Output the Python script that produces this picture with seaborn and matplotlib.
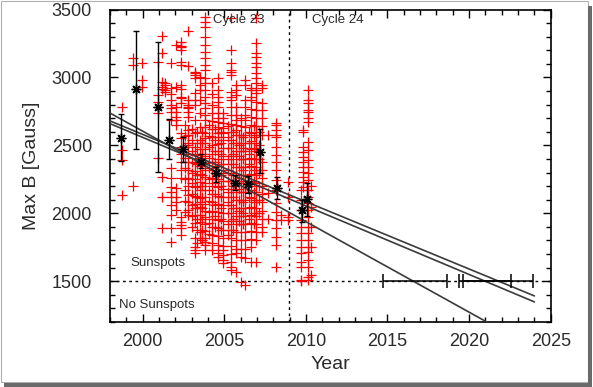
import numpy as np
import pandas as pd
import matplotlib
matplotlib.use("Agg")
import matplotlib.pyplot as plt
from matplotlib.patches import Rectangle
from matplotlib.ticker import MultipleLocator
import seaborn as sns

# ---- data ----
# individual umbral field measurements (red crosses), one list per observing date
col_year = [1998.72, 1999.39, 1999.94, 2000.92, 2001.17, 2001.40, 2001.72, 2002.05, 2002.35,
            2002.60, 2002.80, 2003.00, 2003.20, 2003.35, 2003.50, 2003.65, 2003.85, 2004.05,
            2004.25, 2004.45, 2004.60, 2004.80, 2004.95, 2005.20, 2005.40, 2005.55, 2005.70,
            2005.90, 2006.05, 2006.15, 2006.30, 2006.50, 2006.65, 2006.80, 2006.95, 2007.10,
            2007.30, 2007.65, 2008.20, 2008.50, 2008.90, 2009.70, 2009.85, 2010.13, 2010.30]
col_gauss = [
    [2780, 2466, 2392, 2135],
    [3141, 3092, 2203],
    [3108, 2981, 2927],
    [3116, 2871, 2822, 2785, 2736, 2405],
    [3305, 3182, 2969, 2913, 2932, 2270, 2122, 1890],
    [2944, 2908, 2895, 2957],
    [3104, 2920, 2878, 2834, 2797, 2773, 2748, 2687, 2331, 2258, 2196, 2159, 2122, 2061, 1988, 1890, 1791],
    [3239, 2927, 2785, 2748, 2711, 2687, 2650, 2184, 2122, 2085, 2024],
    [3263, 3231, 3226, 3202, 3116, 3092, 2944, 2913, 2858, 2810, 2846, 2589, 2552, 2490, 2440, 2380,
     2320, 2260, 1975, 1938, 1914, 1840, 1890],
    [2650, 2570, 2490, 2410, 2330, 2250, 2170, 2090, 2010],
    [3344, 3084, 2834, 2785, 2797, 2773, 2748, 2711, 2613, 2576, 2515, 2503, 2440, 2380, 2320, 2260,
     2200, 2135, 2085, 2024, 1988],
    [2620, 2540, 2460, 2380, 2300, 2220, 2140, 2060, 1980, 1900],
    [3042, 3035, 2994, 3018, 2883, 2834, 2797, 2687, 2589, 2490, 2430, 2370, 2310, 2250, 2190, 2130,
     2070, 2039, 1988, 1929, 1816, 1754, 1705, 1730],
    [2600, 2520, 2440, 2360, 2280, 2200, 2120, 2040, 1960, 1880, 1780],
    [3005, 2944, 2908, 2834, 2736, 2637, 2540, 2470, 2410, 2350, 2290, 2230, 2170, 2110, 2085, 2050,
     1990, 1938, 1865, 1816],
    [2600, 2520, 2440, 2360, 2280, 2200, 2120, 2040, 1960, 1880, 1800],
    [3447, 3410, 3373, 3300, 3239, 3189, 3141, 3092, 3055, 2993, 2957, 2908, 2858, 2810, 2773, 2724,
     2687, 2637, 2589, 2552, 2515, 2470, 2420, 2370, 2320, 2270, 2220, 2170, 2120, 2070, 2020, 1970,
     1920, 1870, 1820, 1791, 1767, 1730],
    [2650, 2570, 2490, 2410, 2330, 2250, 2170, 2090, 2010, 1930, 1850],
    [2960, 2880, 2800, 2740, 2680, 2620, 2560, 2500, 2440, 2380, 2320, 2260, 2200, 2140, 2080, 2020,
     1960, 1900, 1840, 1780, 1730],
    [2620, 2540, 2460, 2380, 2300, 2220, 2140, 2060, 1980, 1900],
    [2993, 2908, 2858, 2821, 2785, 2736, 2699, 2674, 2637, 2589, 2564, 2510, 2460, 2400, 2350, 2300,
     2250, 2190, 2130, 2070, 2010, 1950, 1890, 1830, 1770, 1705, 1681],
    [2600, 2520, 2440, 2360, 2280, 2200, 2120, 2040, 1960, 1880],
    [2736, 2699, 2662, 2626, 2589, 2540, 2480, 2420, 2360, 2300, 2240, 2180, 2120, 2060, 2000, 1940,
     1880, 1820, 1760, 1730, 1656, 1632, 1693],
    [2640, 2560, 2480, 2400, 2320, 2240, 2160, 2080, 2000, 1920, 1840],
    [3435, 3202, 3104, 3055, 3018, 3042, 2895, 2858, 2834, 2780, 2720, 2660, 2600, 2540, 2480, 2420,
     2360, 2300, 2240, 2180, 2120, 2060, 2000, 1940, 1880, 1820, 1760, 1700, 1644, 1607, 1583],
    [2600, 2520, 2440, 2360, 2280, 2200, 2120, 2040, 1960, 1880],
    [2944, 2908, 2871, 2785, 2724, 2687, 2650, 2613, 2576, 2520, 2460, 2400, 2340, 2280, 2220, 2160,
     2100, 2040, 1980, 1920, 1860, 1800, 1740, 1705, 1570],
    [2580, 2500, 2420, 2340, 2260, 2180, 2100, 2020, 1940],
    [2700, 2640, 2580, 2520, 2460, 2400, 2340, 2280, 2220, 2160, 2100, 2040, 1980, 1920, 1860, 1800,
     1740, 1681, 1497],
    [2560, 2480, 2400, 2320, 2240, 2160, 2080, 2000, 1920],
    [2981, 2944, 2834, 2785, 2724, 2687, 2637, 2580, 2520, 2460, 2400, 2340, 2280, 2220, 2160, 2100,
     2040, 1980, 1920, 1860, 1800, 1740, 1669, 1472],
    [2600, 2520, 2440, 2360, 2280, 2200, 2120, 2040, 1960],
    [2920, 2908, 2858, 2834, 2770, 2710, 2650, 2590, 2530, 2470, 2410, 2350, 2290, 2230, 2170, 2110,
     2050, 1990, 1930, 1870, 1810, 1750, 1644],
    [2640, 2560, 2480, 2400, 2320, 2240, 2160, 2080, 2000, 1920],
    [3435, 3251, 3178, 3153, 3104, 3079, 3030, 2993, 2957, 2908, 2883, 2820, 2760, 2700, 2640, 2580,
     2520, 2460, 2400, 2340, 2280, 2220, 2160, 2100, 2040, 1980, 1920, 1860, 1800, 1644],
    [2600, 2500, 2400, 2300, 2200, 2100, 2000],
    [2944, 2920, 2810, 2760, 2699, 2640, 2580, 2380, 2320, 2260, 2200, 2140, 2080, 2020, 1960, 1900, 1860],
    [2576, 2150, 1960],
    [2662, 2650, 2613, 2576, 2564, 2490, 2429, 2380, 2319, 2245, 2171, 2073, 2012, 1951, 1890, 1828,
     1767, 1607],
    [1951, 1985],
    [2233, 2122, 1975, 1951],
    [2171, 2098, 2024, 1951, 1901, 1852, 1803, 1754, 1705, 1644, 1607, 1508, 1500],
    [2490, 2453, 2417, 2380, 2343, 2306, 2270, 2233, 2196, 2601, 2613],
    [2908, 2834, 2810, 2760, 2748, 2699, 2674, 2527, 2466, 2392, 2343, 2294, 2245, 2171, 2122, 2073,
     2024, 1975, 1901, 1852, 1803, 1754, 1717, 1656, 1607, 1533, 1508],
    [2200, 2050, 1900, 1750, 1546],
]

# yearly averages (black asterisks) with their error bars
avg_year = [1998.66, 1999.59, 2000.92, 2001.60, 2002.49, 2003.58, 2004.50,
            2005.66, 2006.44, 2007.19, 2008.21, 2009.75, 2010.05]
avg_gauss = [2552, 2913, 2785, 2540, 2473, 2376, 2295, 2226, 2214, 2449, 2189, 2025, 2106]
avg_low = [2387, 2474, 2302, 2398, 2380, 2332, 2233, 2172, 2147, 2295, 2106, 1939, 1980]
avg_high = [2729, 3344, 3259, 2692, 2560, 2437, 2343, 2282, 2277, 2618, 2270, 2098, 2226]

# linear extrapolations to the 1500 G threshold
fit_year = [1998, 2024]
fit_a = [2738, 1006]
fit_b = [2680, 1392]
fit_c = [2660, 1348]

# years where the fits cross 1500 G, with uncertainty ranges
cross_year = [2016.69, 2020.98, 2021.76]
cross_low = [2014.73, 2019.39, 2019.60]
cross_high = [2018.65, 2022.57, 2023.92]

cycle_start = 2008.95
threshold = 1500

df = pd.DataFrame({
    "Year": [y for y, g in zip(col_year, col_gauss) for _ in g],
    "B": [v for g in col_gauss for v in g],
})

sns.set_style("ticks")
plt.rcParams["font.family"] = ["Liberation Sans", "DejaVu Sans"]
txt = "#2a2a2a"

fig = plt.figure(figsize=(5.93, 3.87), dpi=100)
ax = fig.add_axes([110 / 593, 1 - 322 / 387, 440.7 / 593, 312.5 / 387])

sns.scatterplot(data=df, x="Year", y="B", marker="+", color="red", s=62,
                linewidth=0.9, ax=ax, zorder=2, legend=False)

for fy in (fit_a, fit_b, fit_c):
    sns.lineplot(x=fit_year, y=fy, color="#3a3a3a", lw=1.2, ax=ax, zorder=3)

yerr = [np.array(avg_gauss) - np.array(avg_low), np.array(avg_high) - np.array(avg_gauss)]
ax.errorbar(avg_year, avg_gauss, yerr=yerr, fmt="none", ecolor="black",
            elinewidth=1.0, capsize=2.5, capthick=1.0, zorder=4)
ax.plot(avg_year, avg_gauss, linestyle="none", marker=(8, 2, 0), ms=7,
        mec="black", mew=1.0, zorder=5)

xerr = [np.array(cross_year) - np.array(cross_low), np.array(cross_high) - np.array(cross_year)]
ax.errorbar(cross_year, [threshold] * 3, xerr=xerr, fmt="none", ecolor="black",
            elinewidth=1.1, capsize=5.3, capthick=1.1, zorder=4)

ax.axhline(threshold, color="black", lw=1, ls=(0, (2, 2.5)), zorder=1)
ax.axvline(cycle_start, color="black", lw=1, ls=(0, (2, 2.5)), zorder=1)

ax.text(2004.3, 3423, "Cycle 23", fontsize=9.5, color=txt, va="center")
ax.text(2010.36, 3423, "Cycle 24", fontsize=9.5, color=txt, va="center")
ax.text(1999.23, 1634, "Sunspots", fontsize=9.5, color=txt, va="center")
ax.text(1998.57, 1325, "No Sunspots", fontsize=9.5, color=txt, va="center")

ax.set_xlim(1998, 2025)
ax.set_ylim(1200, 3500)
ax.xaxis.set_major_locator(MultipleLocator(5))
ax.xaxis.set_minor_locator(MultipleLocator(1))
ax.yaxis.set_major_locator(MultipleLocator(500))
ax.yaxis.set_minor_locator(MultipleLocator(100))
ax.tick_params(which="both", direction="in", top=True, right=True, width=1, color="black")
ax.tick_params(which="major", length=6, labelsize=13, labelcolor=txt)
ax.tick_params(axis="x", which="major", pad=8)
ax.tick_params(axis="y", which="major", pad=13)
ax.tick_params(which="minor", length=3.3)
for s in ax.spines.values():
    s.set_visible(True)
    s.set_linewidth(1.2)
    s.set_color("black")

ax.set_xlabel("Year", fontsize=14, color=txt, labelpad=4)
ax.set_ylabel("Max B [Gauss]", fontsize=14, color=txt, labelpad=8)

# picture frame with drop shadow
W, H = 593, 387
fig.add_artist(Rectangle((0.5 / W, 5 / H), 587 / W, 381.5 / H, transform=fig.transFigure,
                         fill=False, ec="#b0b0b0", lw=0.8))
fig.add_artist(Rectangle((588 / W, 0), 4 / W, (H - 6) / H, transform=fig.transFigure,
                         fc="#6a6a6a", ec="none"))
fig.add_artist(Rectangle((4 / W, 0), 588 / W, 4 / H, transform=fig.transFigure,
                         fc="#6a6a6a", ec="none"))

fig.savefig("out.png", dpi=100)
